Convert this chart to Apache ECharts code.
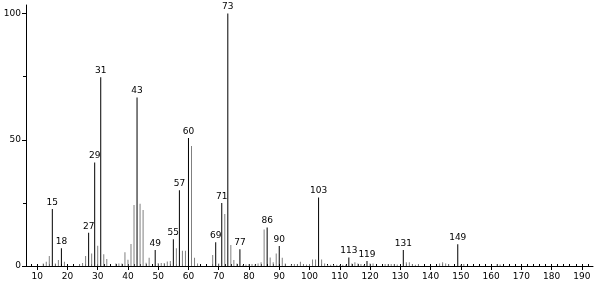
<!DOCTYPE html>
<html><head><meta charset="utf-8">
<script src="https://cdn.jsdelivr.net/npm/echarts@6/dist/echarts.min.js"></script>
<style>html,body{margin:0;padding:0;background:#fff}#c{width:595px;height:282px}</style>
</head><body><div id="c"></div>
<script>
const masses = [12,13,14,15,16,17,18,19,24,25,26,27,28,29,30,31,32,33,36,37,38,39,40,41,42,43,44,45,46,47,49,50,51,52,53,54,55,56,57,58,59,60,61,62,63,68,69,70,71,72,73,74,75,76,77,78,79,80,81,82,83,84,85,86,87,88,89,90,91,92,94,95,96,97,98,99,100,101,102,103,104,105,106,107,108,109,110,111,112,113,114,115,116,117,118,119,120,121,125,126,127,128,129,131,132,133,134,135,136,143,144,145,146,149,150,151,162,163];
const intensities = [1.0,1.7,4.0,22.6,1.0,2.4,7.0,1.7,0.8,1.2,4.0,13.2,5.0,41.0,8.0,74.8,4.7,2.8,1.0,1.0,1.0,5.4,2.5,8.7,24.2,66.8,24.7,22.2,1.3,3.3,6.3,1.2,1.2,1.2,1.8,2.0,10.6,7.0,30.0,6.0,6.0,50.7,47.5,3.3,1.0,4.4,9.4,1.0,25.0,20.6,100,8.3,2.4,1.0,6.6,0.4,0.6,0.8,0.8,0.6,1.0,1.5,14.5,15.3,3.4,1.5,5.0,7.9,3.3,1.0,0.6,0.8,0.8,1.7,0.8,0.6,0.8,2.6,2.6,27.1,2.6,1.0,0.4,0.5,0.4,0.5,0.4,0.5,0.5,3.4,1.0,1.5,1.0,0.8,0.4,2.0,1.0,1.0,0.8,0.8,0.8,0.8,0.6,6.3,1.5,1.5,0.8,0.5,0.8,1.0,1.5,1.0,0.8,8.6,0.5,0.8,0.8,0.6];
const labeledPeaks = [15,18,27,29,31,43,49,55,57,60,69,71,73,77,86,90,103,113,119,131,149];
const xTickLabels = [10,20,30,40,50,60,70,80,90,100,110,120,130,140,150,160,170,180,190];
const xMinorTicks = [];
for (let v = 8; v <= 192; v += 2) xMinorTicks.push(v);
const yTickLabels = [0,50,100];
const yMinorTicks = [25,75];

const FONT = 'DejaVu Sans';
const data = masses.map((m, i) => {
  const lab = labeledPeaks.includes(m);
  return {
    value: [m, intensities[i]],
    itemStyle: { color: lab ? '#000' : '#808080' },
    label: { show: lab }
  };
});

const chart = echarts.init(document.getElementById('c'), null, { renderer: 'canvas' });
const XMIN = 6.3, XMAX = 193.7, YMAX = 103.4;
chart.setOption({
  animation: false,
  backgroundColor: '#fff',
  grid: { left: 26, right: 2, top: 5, bottom: 16 },
  xAxis: [{
    type: 'value', min: XMIN, max: XMAX, position: 'bottom',
    axisLine: { show: true, lineStyle: { color: '#000', width: 1 } },
    axisTick: { show: true, customValues: xTickLabels, length: 4, inside: false, lineStyle: { color: '#000' } },
    axisLabel: { show: true, customValues: xTickLabels, color: '#000', fontSize: 9, fontFamily: FONT, margin: 6 },
    splitLine: { show: false }
  }, {
    type: 'value', min: XMIN, max: XMAX, position: 'bottom',
    axisLine: { show: false },
    axisTick: { show: true, customValues: xMinorTicks, length: 2, inside: true, lineStyle: { color: '#000' } },
    axisLabel: { show: false },
    splitLine: { show: false }
  }],
  yAxis: [{
    type: 'value', min: 0, max: YMAX, position: 'left',
    axisLine: { show: true, lineStyle: { color: '#000', width: 1 } },
    axisTick: { show: true, customValues: yTickLabels, length: 4, lineStyle: { color: '#000' } },
    axisLabel: { show: true, customValues: yTickLabels, color: '#000', fontSize: 9, fontFamily: FONT, margin: 5 },
    splitLine: { show: false }
  }, {
    type: 'value', min: 0, max: YMAX, position: 'left',
    axisLine: { show: false },
    axisTick: { show: true, customValues: yMinorTicks, length: 3, lineStyle: { color: '#000' } },
    axisLabel: { show: false },
    splitLine: { show: false }
  }],
  series: [{
    type: 'bar',
    xAxisIndex: 0, yAxisIndex: 0,
    barWidth: 1,
    data: data,
    label: { position: 'top', distance: 2, color: '#000', fontSize: 9, fontFamily: FONT,
      formatter: p => String(p.value[0]) }
  }]
});
</script>
</body></html>
